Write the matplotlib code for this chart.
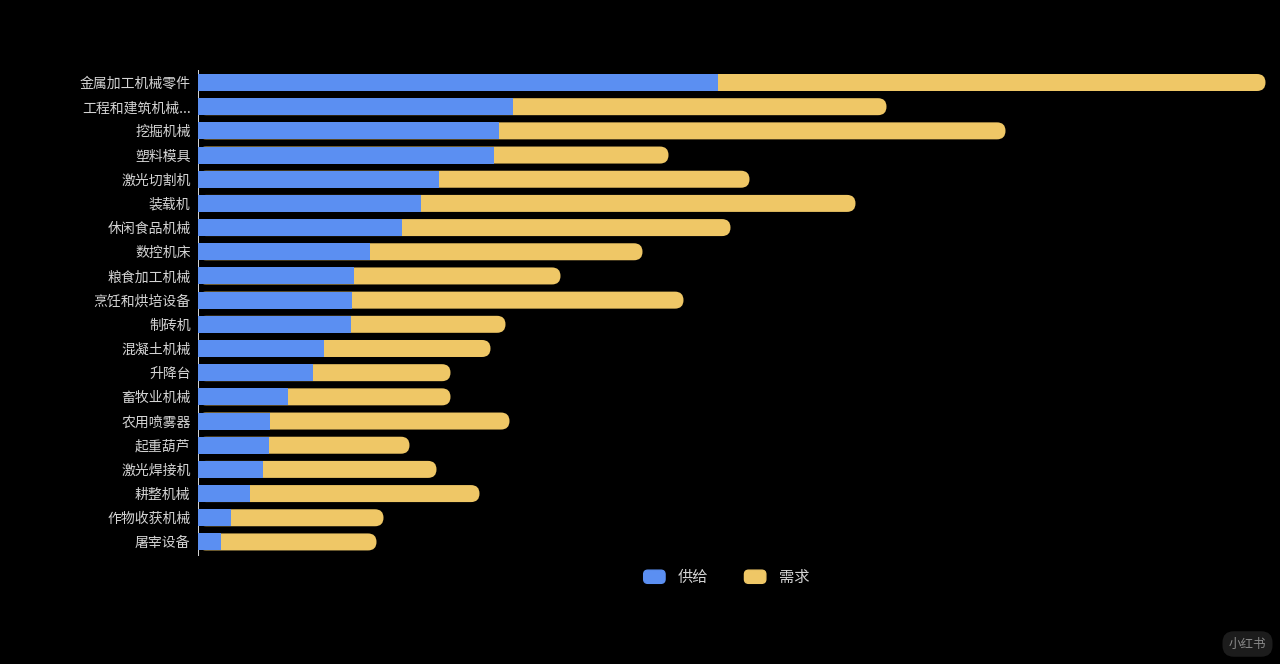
import matplotlib
matplotlib.use('Agg')
from matplotlib import pyplot as plt
from matplotlib.patches import FancyBboxPatch
from matplotlib.legend_handler import HandlerPatch
from matplotlib.patches import Patch

plt.rcParams['font.family'] = ['Noto Sans CJK SC', 'DejaVu Sans']

categories = ['金属加工机械零件', '工程和建筑机械...', '挖掘机械', '塑料模具', '激光切割机',
              '装载机', '休闲食品机械', '数控机床', '粮食加工机械', '烹饪和烘培设备',
              '制砖机', '混凝土机械', '升降台', '畜牧业机械', '农用喷雾器',
              '起重葫芦', '激光焊接机', '耕整机械', '作物收获机械', '屠宰设备']
supply = [520, 315, 301, 296, 241, 223, 204, 172, 156, 154,
          153, 126, 115, 90, 72, 71, 65, 52, 33, 23]
demand = [548, 374, 507, 175, 311, 435, 329, 273, 207, 332,
          155, 167, 138, 163, 240, 141, 174, 230, 153, 156]

BLUE = '#5b8ff2'
YELLOW = '#efc766'
TEXT = '#d4d4d4'
W, H = 1280, 664
pitch = 24.18
bar_h = 17 / pitch


def rounded_handle(legend, orig_handle, xdescent, ydescent, width, height, fontsize):
    return FancyBboxPatch((-xdescent, -ydescent), width, height,
                          boxstyle='round,pad=0,rounding_size=3')


fig = plt.figure(figsize=(12.8, 6.64), dpi=100, facecolor='black')
ax = fig.add_axes([197.5 / W, 1 - 555 / H, (W - 197.5) / W, 485 / H], facecolor='black')

y = list(range(len(categories)))
for i in y:
    # yellow bar runs under the blue one so only its right end shows round
    ax.add_patch(FancyBboxPatch((0, i - bar_h / 2), supply[i] + demand[i], bar_h,
                                boxstyle='round,pad=0,rounding_size=8.5',
                                mutation_aspect=1 / pitch,
                                fc=YELLOW, ec='none', zorder=2))
ax.barh(y, supply, height=bar_h, color=BLUE, zorder=3)

ax.set_xlim(0, W - 197.5)
ax.set_ylim(19.54, -0.517)
ax.set_yticks(y, categories, color=TEXT, fontsize=10)
ax.set_xticks([])
ax.tick_params(axis='y', length=0, pad=5)
for s in ['top', 'right', 'bottom']:
    ax.spines[s].set_visible(False)
ax.spines['left'].set_color('#d8d8d8')
ax.spines['left'].set_linewidth(0.7)

handles = [Patch(color=BLUE, label='供给'), Patch(color=YELLOW, label='需求')]
fig.legend(handles=handles, ncol=2, frameon=False, labelcolor=TEXT, prop={'size': 11},
           handler_map={Patch: HandlerPatch(patch_func=rounded_handle)},
           handlelength=1.4, handleheight=0.95, handletextpad=0.85, columnspacing=2.35,
           loc='center', bbox_to_anchor=(726.5 / W, 1 - 577.5 / H))

# watermark pill in the lower right corner
fig.text(1247.5 / W, 1 - 644 / H, '小红书', color='#8a8a8a', fontsize=9,
         ha='center', va='center',
         bbox=dict(boxstyle='round,pad=0.5,rounding_size=0.9', fc='#1c1c1c', ec='none'))

plt.savefig('out.png', dpi=100, facecolor='black')
